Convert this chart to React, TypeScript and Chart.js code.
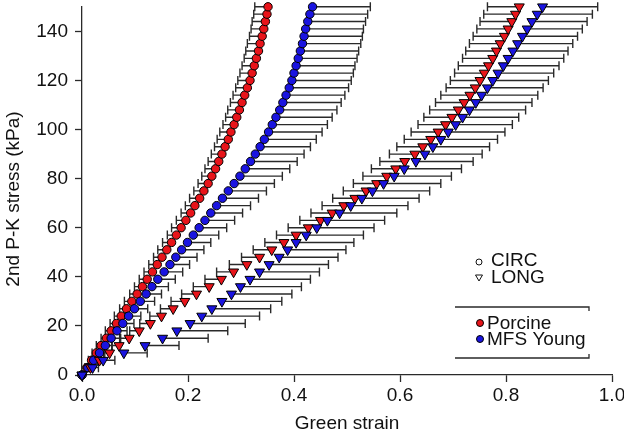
import { useEffect, useRef } from "react";
import { Chart, registerables } from "chart.js";

Chart.register(...registerables);

// 2nd P-K stress levels (kPa)
const stressKPa = [
  0, 3, 6, 9, 12, 15, 18, 21, 24, 27, 30, 33, 36, 39, 42, 45, 48, 51, 54, 57,
  60, 63, 66, 69, 72, 75, 78, 81, 84, 87, 90, 93, 96, 99, 102, 105, 108, 111,
  114, 117, 120, 123, 126, 129, 132, 135, 138, 141, 144, 147, 150,
];

// Green strain – Porcine CIRC (red circles)
const porcineCirc = [
  0, 0.009, 0.018, 0.027, 0.036, 0.046, 0.055, 0.065, 0.074, 0.084, 0.094,
  0.104, 0.114, 0.123, 0.133, 0.142, 0.151, 0.16, 0.169, 0.178, 0.187, 0.196,
  0.205, 0.213, 0.222, 0.23, 0.238, 0.245, 0.252, 0.258, 0.264, 0.27, 0.276,
  0.281, 0.287, 0.292, 0.297, 0.302, 0.307, 0.312, 0.317, 0.321, 0.325, 0.329,
  0.333, 0.336, 0.34, 0.343, 0.346, 0.349, 0.351,
];
const porcineCircErr = [
  0, 0.004, 0.006, 0.008, 0.009, 0.01, 0.011, 0.012, 0.013, 0.013, 0.014,
  0.014, 0.015, 0.015, 0.016, 0.016, 0.016, 0.017, 0.017, 0.017, 0.018, 0.018,
  0.018, 0.018, 0.019, 0.019, 0.019, 0.019, 0.02, 0.02, 0.02, 0.02, 0.021,
  0.021, 0.021, 0.021, 0.022, 0.022, 0.022, 0.022, 0.023, 0.023, 0.023, 0.023,
  0.024, 0.024, 0.024, 0.024, 0.025, 0.025, 0.025,
];

// Green strain – MFS Young CIRC (blue circles)
const mfsCirc = [
  0, 0.011, 0.022, 0.033, 0.044, 0.055, 0.066, 0.077, 0.088, 0.099, 0.11,
  0.121, 0.132, 0.143, 0.155, 0.166, 0.177, 0.188, 0.199, 0.21, 0.221, 0.232,
  0.243, 0.254, 0.265, 0.276, 0.287, 0.298, 0.308, 0.318, 0.327, 0.336, 0.344,
  0.352, 0.359, 0.366, 0.373, 0.379, 0.385, 0.391, 0.396, 0.4, 0.404, 0.408,
  0.412, 0.416, 0.419, 0.422, 0.426, 0.43, 0.435,
];
const mfsCircErr = [
  0, 0.004, 0.007, 0.01, 0.013, 0.016, 0.019, 0.021, 0.023, 0.025, 0.027,
  0.029, 0.031, 0.033, 0.035, 0.037, 0.04, 0.042, 0.044, 0.048, 0.052, 0.056,
  0.06, 0.064, 0.068, 0.072, 0.076, 0.08, 0.084, 0.088, 0.092, 0.095, 0.098,
  0.101, 0.104, 0.106, 0.108, 0.11, 0.111, 0.112, 0.112, 0.112, 0.111, 0.111,
  0.11, 0.11, 0.11, 0.109, 0.109, 0.109, 0.109,
];

// Green strain – Porcine LONG (red triangles)
const porcineLong = [
  0, 0.016, 0.033, 0.052, 0.07, 0.089, 0.108, 0.129, 0.15, 0.172, 0.194,
  0.216, 0.24, 0.263, 0.286, 0.311, 0.335, 0.358, 0.381, 0.404, 0.427, 0.45,
  0.472, 0.494, 0.515, 0.536, 0.556, 0.575, 0.592, 0.609, 0.628, 0.643, 0.658,
  0.672, 0.686, 0.698, 0.71, 0.721, 0.732, 0.742, 0.751, 0.759, 0.767, 0.775,
  0.782, 0.789, 0.797, 0.804, 0.811, 0.818, 0.825,
];
const porcineLongErr = [
  0, 0.005, 0.008, 0.011, 0.014, 0.016, 0.018, 0.02, 0.022, 0.024, 0.026,
  0.028, 0.03, 0.031, 0.032, 0.033, 0.034, 0.035, 0.036, 0.037, 0.038, 0.039,
  0.04, 0.041, 0.042, 0.043, 0.044, 0.045, 0.046, 0.047, 0.048, 0.049, 0.05,
  0.051, 0.052, 0.053, 0.054, 0.054, 0.055, 0.055, 0.056, 0.056, 0.057, 0.057,
  0.058, 0.058, 0.059, 0.059, 0.06, 0.06, 0.06,
];

// Green strain – MFS Young LONG (blue triangles)
const mfsLong = [
  0, 0.02, 0.04, 0.079, 0.119, 0.152, 0.179, 0.204, 0.226, 0.245, 0.264,
  0.282, 0.299, 0.317, 0.335, 0.353, 0.372, 0.388, 0.404, 0.423, 0.443, 0.463,
  0.486, 0.507, 0.528, 0.548, 0.569, 0.589, 0.608, 0.63, 0.647, 0.662, 0.677,
  0.691, 0.705, 0.718, 0.731, 0.743, 0.754, 0.765, 0.775, 0.785, 0.795, 0.804,
  0.813, 0.822, 0.831, 0.84, 0.849, 0.859, 0.869,
];
const mfsLongErr = [
  0, 0.011, 0.022, 0.044, 0.064, 0.086, 0.096, 0.104, 0.109, 0.111, 0.113,
  0.114, 0.115, 0.114, 0.113, 0.112, 0.111, 0.11, 0.109, 0.108, 0.108, 0.108,
  0.108, 0.108, 0.108, 0.108, 0.108, 0.108, 0.108, 0.108, 0.108, 0.107, 0.107,
  0.107, 0.107, 0.106, 0.106, 0.106, 0.106, 0.105, 0.105, 0.105, 0.105, 0.105,
  0.104, 0.104, 0.104, 0.104, 0.104, 0.104, 0.104,
];

const xTicks = [0, 0.2, 0.4, 0.6, 0.8, 1.0];
const yTicks = [0, 20, 40, 60, 80, 100, 120, 140];

const RED = "#e8141a";
const BLUE = "#1a14e0";
const INK = "#111111";
const BAR = "#2a2a2a";
const FONT = "'Liberation Sans', Arial, Helvetica, sans-serif";
const FS = 19;

const errorSeries = [
  { strain: porcineCirc, err: porcineCircErr, dir: -1 },
  { strain: mfsCirc, err: mfsCircErr, dir: 1 },
  { strain: porcineLong, err: porcineLongErr, dir: -1 },
  { strain: mfsLong, err: mfsLongErr, dir: 1 },
];

const errorBarPlugin = {
  id: "hErrorBars",
  beforeDatasetsDraw(chart: any) {
    const { ctx, scales } = chart;
    const xs = scales.x;
    const ys = scales.y;
    ctx.save();
    ctx.strokeStyle = BAR;
    ctx.lineWidth = 1.4;
    for (const s of errorSeries) {
      for (let i = 0; i < stressKPa.length; i++) {
        const e = s.err[i];
        if (!e) continue;
        const x0 = xs.getPixelForValue(s.strain[i]);
        const x1 = xs.getPixelForValue(s.strain[i] + s.dir * e);
        const py = ys.getPixelForValue(stressKPa[i]);
        ctx.beginPath();
        ctx.moveTo(x0, py);
        ctx.lineTo(x1, py);
        ctx.moveTo(x1, py - 4.5);
        ctx.lineTo(x1, py + 4.5);
        ctx.stroke();
      }
    }
    ctx.restore();
  },
};

const textPlugin = {
  id: "customText",
  afterDraw(chart: any) {
    const { ctx } = chart;
    ctx.save();
    ctx.font = `${FS}px ${FONT}`;
    ctx.fillStyle = INK;
    ctx.textBaseline = "middle";
    // axis titles
    ctx.textAlign = "center";
    ctx.fillText("Green strain", 347, 424);
    ctx.save();
    ctx.translate(14, 199);
    ctx.rotate(-Math.PI / 2);
    ctx.fillText("2nd P-K stress (kPa)", 0, 0);
    ctx.restore();

    ctx.textAlign = "left";
    ctx.strokeStyle = INK;
    ctx.lineWidth = 1;
    // open circle
    ctx.beginPath();
    ctx.arc(479, 262, 3, 0, Math.PI * 2);
    ctx.stroke();
    ctx.fillText("CIRC", 491, 261);
    // open down triangle
    ctx.beginPath();
    ctx.moveTo(475.5, 275);
    ctx.lineTo(482.5, 275);
    ctx.lineTo(479, 281);
    ctx.closePath();
    ctx.stroke();
    ctx.fillText("LONG", 491, 278);
    // box lines
    ctx.strokeStyle = BAR;
    ctx.lineWidth = 1.3;
    ctx.beginPath();
    ctx.moveTo(455, 307);
    ctx.lineTo(589, 307);
    ctx.lineTo(589, 311);
    ctx.moveTo(455, 358);
    ctx.lineTo(589, 358);
    ctx.lineTo(589, 354);
    ctx.stroke();
    // filled markers
    ctx.lineWidth = 1;
    ctx.strokeStyle = "#000";
    ctx.fillStyle = RED;
    ctx.beginPath();
    ctx.arc(480, 323, 3.5, 0, Math.PI * 2);
    ctx.fill();
    ctx.stroke();
    ctx.fillStyle = BLUE;
    ctx.beginPath();
    ctx.arc(480, 339, 3.5, 0, Math.PI * 2);
    ctx.fill();
    ctx.stroke();
    ctx.fillStyle = INK;
    ctx.fillText("Porcine", 487, 324);
    ctx.fillText("MFS Young", 487, 340);
    ctx.restore();
  },
};

function pts(strain: number[]) {
  return stressKPa.map((s, i) => ({ x: strain[i], y: s }));
}

export default function App() {
  const ref = useRef<HTMLCanvasElement>(null);
  useEffect(() => {
    if (!ref.current) return;
    const common = {
      borderColor: "#000",
      borderWidth: 1,
      pointBorderWidth: 1,
      showLine: false,
      clip: false as any,
    };
    const chart = new Chart(ref.current, {
      type: "scatter",
      data: {
        datasets: [
          {
            ...common,
            label: "Porcine CIRC",
            data: pts(porcineCirc),
            backgroundColor: RED,
            pointStyle: "circle",
            pointRadius: 4.2,
            order: 4,
          },
          {
            ...common,
            label: "MFS Young CIRC",
            data: pts(mfsCirc),
            backgroundColor: BLUE,
            pointStyle: "circle",
            pointRadius: 4.2,
            order: 3,
          },
          {
            ...common,
            label: "Porcine LONG",
            data: pts(porcineLong),
            backgroundColor: RED,
            pointStyle: "triangle",
            rotation: 180,
            pointRadius: 5.8,
            order: 2,
          },
          {
            ...common,
            label: "MFS Young LONG",
            data: pts(mfsLong),
            backgroundColor: BLUE,
            pointStyle: "triangle",
            rotation: 180,
            pointRadius: 5.8,
            order: 1,
          },
        ],
      },
      options: {
        responsive: false,
        animation: false,
        events: [],
        layout: { padding: { left: 0, right: 12, top: 6, bottom: 0 } },
        plugins: {
          legend: { display: false },
          tooltip: { enabled: false },
        },
        scales: {
          x: {
            type: "linear",
            min: 0,
            max: 1,
            afterFit: (s: any) => {
              s.height = 65;
              s.paddingLeft = 0;
              s.paddingRight = 0;
            },
            afterBuildTicks: (s: any) => {
              s.ticks = xTicks.map((v) => ({ value: v }));
            },
            ticks: {
              callback: (v: any) => Number(v).toFixed(1),
              font: { family: FONT, size: FS },
              color: INK,
              padding: 2,
              maxRotation: 0,
            },
            grid: {
              drawOnChartArea: false,
              drawTicks: true,
              tickLength: 7,
              color: BAR,
              tickWidth: 1.3,
            },
            border: { display: true, color: BAR, width: 1.3 },
          },
          y: {
            type: "linear",
            min: 0,
            max: 150,
            afterFit: (s: any) => {
              s.width = 82;
              s.paddingTop = 0;
              s.paddingBottom = 0;
            },
            afterBuildTicks: (s: any) => {
              s.ticks = yTicks.map((v) => ({ value: v }));
            },
            ticks: {
              callback: (v: any) => String(v),
              font: { family: FONT, size: FS },
              color: INK,
              padding: 7,
            },
            grid: {
              drawOnChartArea: false,
              drawTicks: true,
              tickLength: 7,
              color: BAR,
              tickWidth: 1.3,
            },
            border: { display: true, color: BAR, width: 1.3 },
          },
        },
      },
      plugins: [errorBarPlugin, textPlugin],
    });
    return () => chart.destroy();
  }, []);
  return (
    <div
      style={{
        position: "absolute",
        left: 0,
        top: 0,
        width: 624,
        height: 440,
        background: "#fff",
      }}
    >
      <canvas
        ref={ref}
        width={624}
        height={440}
        style={{ display: "block", width: 624, height: 440 }}
      />
    </div>
  );
}
